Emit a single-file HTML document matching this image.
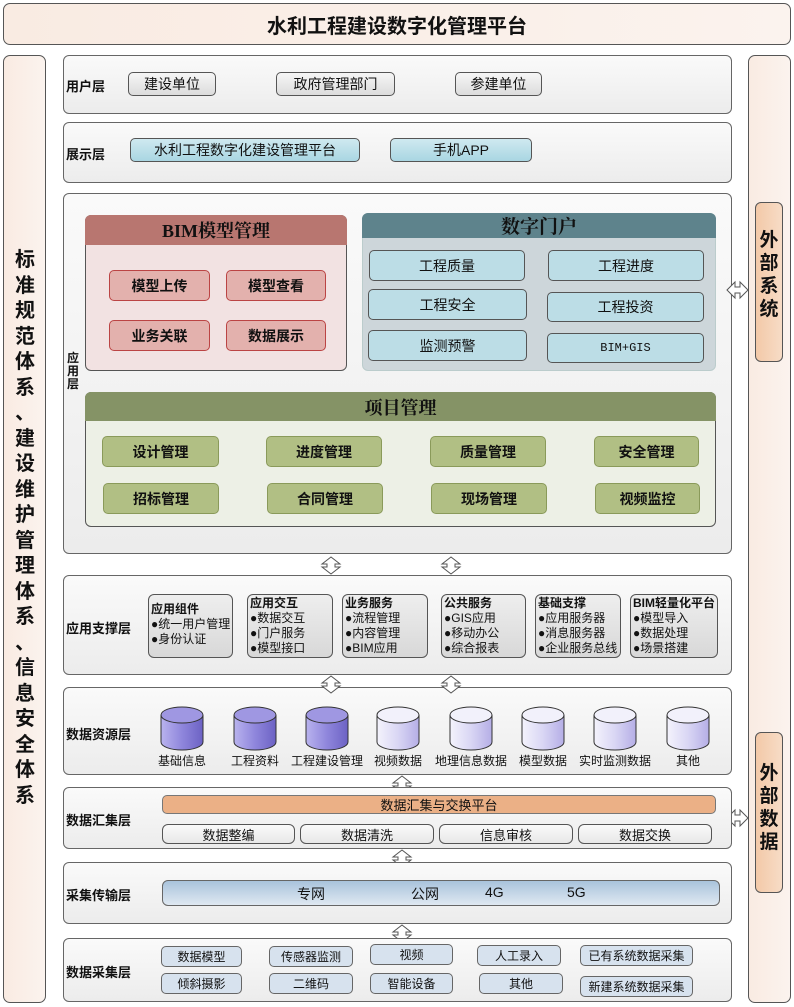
<!DOCTYPE html>
<html><head><meta charset="utf-8">
<style>
*{box-sizing:border-box;margin:0;padding:0}
body{width:794px;height:1007px;position:relative;background:#fff;font-family:"Liberation Sans","Noto Sans CJK SC",sans-serif;color:#111;overflow:hidden}
.a{position:absolute}
.peach{background:linear-gradient(90deg,#f9ebe2,#fbf3ee);border:1px solid #555;border-radius:7px}
.layer{position:absolute;left:63px;width:669px;border:1px solid #666;border-radius:6px;background:linear-gradient(180deg,#fafafa,#ececec)}
.lbl{position:absolute;left:66px;font-size:13px;font-weight:bold;white-space:nowrap}
.b{position:absolute;display:flex;align-items:center;justify-content:center;border:1px solid #555;border-radius:5px;font-size:14px;white-space:nowrap}
.gray{background:linear-gradient(180deg,#f6f6f6,#dcdcdc)}
.cyan{background:linear-gradient(180deg,#cfe9f0,#a9d6e2)}
.pink{background:#e3b1ad;border-color:#b44;font-weight:bold;font-size:14px}
.lb{background:#bcdde6;border-color:#555;font-size:14px}
.grn{background:#b1bf84;border-color:#8a9a5a;font-weight:bold;font-size:14px}
.sup{position:absolute;top:594px;height:64px;border:1px solid #555;border-radius:6px;background:linear-gradient(180deg,#eee,#d8d8d8);font-size:12px;line-height:15px;padding:1px 2px;white-space:nowrap}
.sup b{display:block}
.cl{position:absolute;top:752px;font-size:12px;white-space:nowrap;transform:translateX(-50%)}
.w{background:linear-gradient(180deg,#fafafa,#e8e8e8);font-size:13px;border-radius:6px}
.col{background:#d7e2ee;font-size:12px;border-radius:5px;border-color:#666}
.vt{position:absolute;font-size:20px;font-weight:bold;line-height:25.5px;text-align:center}
</style></head><body>
<div class="a peach" style="left:3px;top:3px;width:788px;height:42px;display:flex;align-items:center;justify-content:center;font-size:20px;font-weight:bold">水利工程建设数字化管理平台</div>
<div class="a peach" style="left:3px;top:55px;width:43px;height:948px"></div>
<div class="vt" style="left:4px;top:248px;width:42px">标<br>准<br>规<br>范<br>体<br>系<br>、<br>建<br>设<br>维<br>护<br>管<br>理<br>体<br>系<br>、<br>信<br>息<br>安<br>全<br>体<br>系</div>
<div class="a peach" style="left:748px;top:55px;width:43px;height:948px"></div>
<div class="a" style="left:755px;top:202px;width:28px;height:160px;border:1px solid #555;border-radius:6px;background:linear-gradient(90deg,#f3c9a8,#f7dcc6)"></div>
<div class="vt" style="left:755px;top:229px;width:28px;font-size:19px;line-height:23px">外<br>部<br>系<br>统</div>
<div class="a" style="left:755px;top:732px;width:28px;height:161px;border:1px solid #555;border-radius:6px;background:linear-gradient(90deg,#f3c9a8,#f7dcc6)"></div>
<div class="vt" style="left:755px;top:762px;width:28px;font-size:19px;line-height:23px">外<br>部<br>数<br>据</div>

<div class="layer" style="top:55px;height:59px"></div>
<div class="lbl" style="top:76px">用户层</div>
<div class="b gray" style="left:128px;top:72px;width:88px;height:24px">建设单位</div>
<div class="b gray" style="left:276px;top:72px;width:119px;height:24px">政府管理部门</div>
<div class="b gray" style="left:455px;top:72px;width:87px;height:24px">参建单位</div>

<div class="layer" style="top:122px;height:61px"></div>
<div class="lbl" style="top:144px">展示层</div>
<div class="b cyan" style="left:130px;top:138px;width:230px;height:24px">水利工程数字化建设管理平台</div>
<div class="b cyan" style="left:390px;top:138px;width:142px;height:24px">手机APP</div>

<div class="layer" style="top:193px;height:361px"></div>
<div class="a" style="left:67px;top:352px;font-size:12px;font-weight:bold;line-height:13px;width:12px">应<br>用<br>层</div>
<div class="a" style="left:85px;top:215px;width:262px;height:156px;border:1px solid #555;border-radius:6px;background:#f2e2e2"></div>
<div class="a" style="left:85px;top:215px;width:262px;height:30px;border-radius:6px 6px 0 0;background:#b87670;display:flex;align-items:center;justify-content:center;font-family:'Liberation Serif','Noto Serif CJK SC',serif;font-size:18px;font-weight:bold">BIM模型管理</div>
<div class="b pink" style="left:109px;top:270px;width:101px;height:31px">模型上传</div>
<div class="b pink" style="left:226px;top:270px;width:100px;height:31px">模型查看</div>
<div class="b pink" style="left:109px;top:320px;width:101px;height:31px">业务关联</div>
<div class="b pink" style="left:226px;top:320px;width:100px;height:31px">数据展示</div>

<div class="a" style="left:362px;top:213px;width:354px;height:158px;border:1px solid #bcc;border-radius:6px;background:#cdd6da"></div>
<div class="a" style="left:362px;top:213px;width:354px;height:25px;border-radius:6px 6px 0 0;background:#5e838c;display:flex;align-items:center;justify-content:center;font-family:'Liberation Serif','Noto Serif CJK SC',serif;font-size:19px;font-weight:bold">数字门户</div>
<div class="b lb" style="left:369px;top:250px;width:156px;height:31px">工程质量</div>
<div class="b lb" style="left:548px;top:250px;width:156px;height:31px">工程进度</div>
<div class="b lb" style="left:368px;top:289px;width:159px;height:31px">工程安全</div>
<div class="b lb" style="left:547px;top:292px;width:157px;height:30px">工程投资</div>
<div class="b lb" style="left:368px;top:330px;width:159px;height:31px">监测预警</div>
<div class="b lb" style="left:547px;top:333px;width:157px;height:30px;font-family:'Liberation Mono',monospace;font-size:12px">BIM+GIS</div>

<div class="a" style="left:85px;top:392px;width:631px;height:135px;border:1px solid #555;border-radius:6px;background:#edf0e6"></div>
<div class="a" style="left:85px;top:392px;width:631px;height:29px;border-radius:6px 6px 0 0;background:#859366;display:flex;align-items:center;justify-content:center;font-family:'Liberation Serif','Noto Serif CJK SC',serif;font-size:18px;font-weight:bold">项目管理</div>
<div class="b grn" style="left:102px;top:436px;width:117px;height:31px">设计管理</div>
<div class="b grn" style="left:266px;top:436px;width:116px;height:31px">进度管理</div>
<div class="b grn" style="left:430px;top:436px;width:116px;height:31px">质量管理</div>
<div class="b grn" style="left:594px;top:436px;width:105px;height:31px">安全管理</div>
<div class="b grn" style="left:103px;top:483px;width:116px;height:31px">招标管理</div>
<div class="b grn" style="left:267px;top:483px;width:116px;height:31px">合同管理</div>
<div class="b grn" style="left:431px;top:483px;width:116px;height:31px">现场管理</div>
<div class="b grn" style="left:595px;top:483px;width:105px;height:31px">视频监控</div>

<div class="layer" style="top:575px;height:100px"></div>
<div class="lbl" style="top:618px">应用支撑层</div>
<div class="sup" style="left:148px;width:85px;padding-top:7px"><b>应用组件</b>●统一用户管理<br>●身份认证</div>
<div class="sup" style="left:247px;width:86px"><b>应用交互</b>●数据交互<br>●门户服务<br>●模型接口</div>
<div class="sup" style="left:342px;width:86px"><b>业务服务</b>●流程管理<br>●内容管理<br>●BIM应用</div>
<div class="sup" style="left:441px;width:85px"><b>公共服务</b>●GIS应用<br>●移动办公<br>●综合报表</div>
<div class="sup" style="left:535px;width:86px"><b>基础支撑</b>●应用服务器<br>●消息服务器<br>●企业服务总线</div>
<div class="sup" style="left:630px;width:88px"><b>BIM轻量化平台</b>●模型导入<br>●数据处理<br>●场景搭建</div>

<div class="layer" style="top:687px;height:88px"></div>
<div class="lbl" style="top:724px">数据资源层</div>
<svg class="a" style="left:0;top:0" width="794" height="1007">
<defs>
<linearGradient id="g1" x1="0" x2="1"><stop offset="0" stop-color="#b9b3ee"/><stop offset="0.5" stop-color="#8f86dc"/><stop offset="1" stop-color="#6c62c4"/></linearGradient>
<linearGradient id="g2" x1="0" x2="1"><stop offset="0" stop-color="#f4f3fc"/><stop offset="0.5" stop-color="#d9d6f4"/><stop offset="1" stop-color="#b5aee6"/></linearGradient>
</defs>
<g stroke="#333" stroke-width="1">
<g id="c1"><path d="M161,715 v27 a21,8 0 0 0 42,0 v-27" fill="url(#g1)"/><ellipse cx="182" cy="715" rx="21" ry="8" fill="#9f97e2"/></g>
<use href="#c1" x="73"/><use href="#c1" x="145"/>
<g id="c2"><path d="M377,715 v27 a21,8 0 0 0 42,0 v-27" fill="url(#g2)"/><ellipse cx="398" cy="715" rx="21" ry="8" fill="#f2f1fb"/></g>
<use href="#c2" x="73"/><use href="#c2" x="145"/><use href="#c2" x="217"/><use href="#c2" x="290"/>
</g>
<g fill="#fff" stroke="#555" stroke-width="1">
<path id="va" d="M331,557 l-9,7 h5 v3 h-5 l9,7 l9,-7 h-5 v-3 h5 z"/>
<use href="#va" x="120"/>
<use href="#va" y="119"/><use href="#va" x="120" y="119"/>
<use href="#va" x="71" y="219"/><use href="#va" x="71" y="293"/><use href="#va" x="71" y="368"/>
<path id="ha" d="M727,290 l8,-8 v5 h5 v-5 l8,8 l-8,8 v-5 h-5 v5 z"/>
<use href="#ha" y="528"/>
</g>
</svg>
<div class="cl" style="left:182px">基础信息</div>
<div class="cl" style="left:255px">工程资料</div>
<div class="cl" style="left:327px">工程建设管理</div>
<div class="cl" style="left:398px">视频数据</div>
<div class="cl" style="left:471px">地理信息数据</div>
<div class="cl" style="left:543px">模型数据</div>
<div class="cl" style="left:615px">实时监测数据</div>
<div class="cl" style="left:688px">其他</div>

<div class="layer" style="top:787px;height:62px"></div>
<div class="lbl" style="top:810px">数据汇集层</div>
<div class="b" style="left:162px;top:795px;width:554px;height:19px;background:#ebb086;border-color:#777;font-size:13px">数据汇集与交换平台</div>
<div class="b w" style="left:162px;top:824px;width:133px;height:20px">数据整编</div>
<div class="b w" style="left:300px;top:824px;width:134px;height:20px">数据清洗</div>
<div class="b w" style="left:439px;top:824px;width:134px;height:20px">信息审核</div>
<div class="b w" style="left:578px;top:824px;width:134px;height:20px">数据交换</div>

<div class="layer" style="top:862px;height:62px"></div>
<div class="lbl" style="top:885px">采集传输层</div>
<div class="a" style="left:162px;top:880px;width:558px;height:26px;border:1px solid #666;border-radius:6px;background:linear-gradient(180deg,#a9c3dc,#dfe8f1);font-size:14px">
<span class="a" style="left:134px;top:3px">专网</span><span class="a" style="left:248px;top:3px">公网</span><span class="a" style="left:322px;top:3px">4G</span><span class="a" style="left:404px;top:3px">5G</span></div>

<div class="layer" style="top:938px;height:64px"></div>
<div class="lbl" style="top:962px">数据采集层</div>
<div class="b col" style="left:161px;top:946px;width:81px;height:21px">数据模型</div>
<div class="b col" style="left:269px;top:946px;width:84px;height:21px">传感器监测</div>
<div class="b col" style="left:370px;top:944px;width:83px;height:21px">视频</div>
<div class="b col" style="left:477px;top:945px;width:84px;height:21px">人工录入</div>
<div class="b col" style="left:580px;top:945px;width:113px;height:21px">已有系统数据采集</div>
<div class="b col" style="left:161px;top:973px;width:81px;height:21px">倾斜摄影</div>
<div class="b col" style="left:269px;top:973px;width:84px;height:21px">二维码</div>
<div class="b col" style="left:370px;top:973px;width:83px;height:21px">智能设备</div>
<div class="b col" style="left:479px;top:973px;width:84px;height:21px">其他</div>
<div class="b col" style="left:580px;top:976px;width:113px;height:21px">新建系统数据采集</div>
</body></html>
